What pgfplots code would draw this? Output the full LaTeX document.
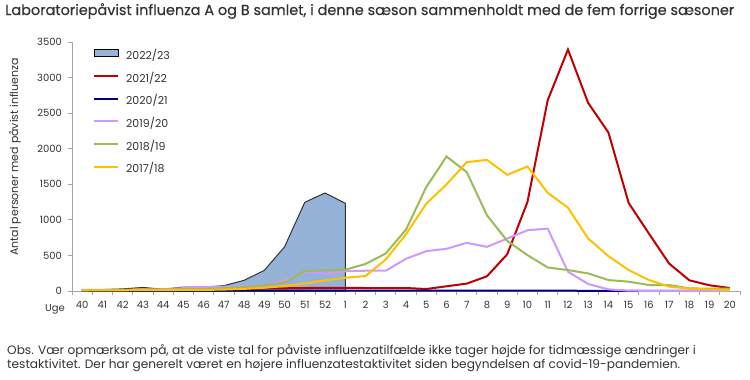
\documentclass[border=0pt]{standalone}
\usepackage{fontspec}
\setmainfont{Poppins}
\newfontfamily\titlefont[FakeBold=0.4]{Poppins}
\usepackage{pgfplots}
\pgfplotsset{compat=1.18}
\definecolor{c2223}{HTML}{95B3D7}
\definecolor{c2122}{HTML}{C00000}
\definecolor{c2021}{HTML}{000080}
\definecolor{c1920}{HTML}{CC99FF}
\definecolor{c1819}{HTML}{9BBB59}
\definecolor{c1718}{HTML}{FFC000}
\definecolor{axgray}{HTML}{A6A6A6}
\definecolor{txt}{HTML}{333333}
\begin{document}
\begin{tikzpicture}[x=1bp,y=1bp]
\useasboundingbox (0,0) rectangle (750,379);
\node[anchor=base west, inner sep=0, text=txt, font=\titlefont\fontsize{14.5}{16}\selectfont] at (5,364) {Laboratoriepåvist influenza A og B samlet, i denne sæson sammenholdt med de fem forrige sæsoner};
\node[rotate=90, inner sep=0, text=txt, font=\fontsize{11}{13}\selectfont] at (15,222) {Antal personer med påvist influenza};
\node[anchor=base west, inner sep=0, text=txt, font=\fontsize{12.2}{14}\selectfont] at (7,25) {Obs. Vær opmærksom på, at de viste tal for påviste influenzatilfælde ikke tager højde for tidmæssige ændringer i};
\node[anchor=base west, inner sep=0, text=txt, font=\fontsize{12.2}{14}\selectfont] at (7,11) {testaktivitet. Der har generelt været en højere influenzatestaktivitet siden begyndelsen af covid-19-pandemien.};
\node[anchor=base east, inner sep=0, text=txt, font=\fontsize{10}{12}\selectfont] at (65,68) {Uge};
\begin{axis}[
  at={(72bp,88bp)}, anchor=south west,
  width=668bp, height=249bp, scale only axis,
  xmin=-0.5, xmax=32.5, ymin=0, ymax=3500,
  axis x line=bottom, axis y line=left,
  axis line style={axgray, line width=0.8bp, -},
  xtick={0,...,32},
  xticklabels={40,41,42,43,44,45,46,47,48,49,50,51,52,1,2,3,4,5,6,7,8,9,10,11,12,13,14,15,16,17,18,19,20},
  minor xtick={-0.5,0.5,...,32.5},
  ytick={0,500,...,3500},
  tick align=outside,
  major tick length=4bp, minor tick length=4bp,
  x tick style={draw=none},
  minor x tick style={draw=axgray, line width=0.8bp},
  y tick style={draw=axgray, line width=0.8bp},
  /pgf/number format/assume math mode=true,
  /pgf/number format/1000 sep={},
  xticklabel style={font=\fontsize{10}{12}\selectfont, text=txt, inner sep=0, yshift=-6bp},
  yticklabel style={font=\fontsize{10}{12}\selectfont, text=txt, inner sep=0, xshift=-6bp},
  legend style={at={(rel axis cs:0,1)}, anchor=north west, xshift=18bp, yshift=-5bp,
    draw=none, fill=none, font=\fontsize{11}{13}\selectfont, text=txt,
    row sep=12bp, column sep=7bp,
    nodes={inner sep=0pt, text height=8bp, text depth=2.7bp}},
  legend cell align=left,
  legend image code/.code={\draw[#1, line width=2bp] (0bp,3.5bp) -- (24bp,3.5bp);},
  clip=false,
]
\addplot[fill=c2223, draw=black!80, line width=1bp,
  legend image code/.code={\draw[fill=c2223, draw=black, line width=1bp] (0bp,0bp) rectangle (24bp,7bp);}]
  coordinates {(0,20) (1,20) (2,30) (3,50) (4,25) (5,55) (6,55) (7,75) (8,150) (9,290) (10,620) (11,1247) (12,1378) (13,1233)} \closedcycle;
\addlegendentry{2022/23}
\addplot[c2122, line width=2bp] coordinates {(0,5) (1,5) (2,5) (3,8) (4,10) (5,12) (6,15) (7,20) (8,28) (9,35) (10,38) (11,42) (12,45) (13,44) (14,42) (15,42) (16,42) (17,28) (18,66) (19,104) (20,207) (21,516) (22,1251) (23,2681) (24,3394) (25,2643) (26,2227) (27,1237) (28,807) (29,385) (30,150) (31,80) (32,42)};
\addlegendentry{2021/22}
\addplot[c2021, line width=2bp] coordinates {(0,3) (1,3) (2,4) (3,4) (4,5) (5,5) (6,5) (7,6) (8,6) (9,6) (10,6) (11,6) (12,6) (13,6) (14,5) (15,5) (16,5) (17,5) (18,5) (19,5) (20,5) (21,4) (22,4) (23,4) (24,4) (25,3) (26,3) (27,3) (28,3) (29,3) (30,3) (31,3) (32,3)};
\addlegendentry{2020/21}
\addplot[c1920, line width=2bp] coordinates {(0,10) (1,12) (2,15) (3,20) (4,25) (5,40) (6,55) (7,60) (8,65) (9,85) (10,150) (11,267) (12,244) (13,277) (14,285) (15,285) (16,453) (17,560) (18,593) (19,677) (20,621) (21,737) (22,854) (23,877) (24,271) (25,98) (26,23) (27,5) (28,2) (29,1) (30,1) (31,1) (32,1)};
\addlegendentry{2019/20}
\addplot[c1819, line width=2bp] coordinates {(0,15) (1,15) (2,15) (3,20) (4,20) (5,25) (6,30) (7,40) (8,55) (9,80) (10,118) (11,281) (12,290) (13,299) (14,380) (15,527) (16,863) (17,1461) (18,1890) (19,1671) (20,1064) (21,705) (22,504) (23,331) (24,294) (25,247) (26,154) (27,131) (28,84) (29,84) (30,37) (31,33) (32,33)};
\addlegendentry{2018/19}
\addplot[c1718, line width=2bp] coordinates {(0,10) (1,10) (2,10) (3,12) (4,12) (5,15) (6,15) (7,20) (8,30) (9,45) (10,70) (11,104) (12,150) (13,186) (14,210) (15,443) (16,798) (17,1227) (18,1498) (19,1811) (20,1843) (21,1633) (22,1750) (23,1381) (24,1171) (25,737) (26,490) (27,294) (28,154) (29,61) (30,33) (31,23) (32,14)};
\addlegendentry{2017/18}
\end{axis}
\end{tikzpicture}
\end{document}
